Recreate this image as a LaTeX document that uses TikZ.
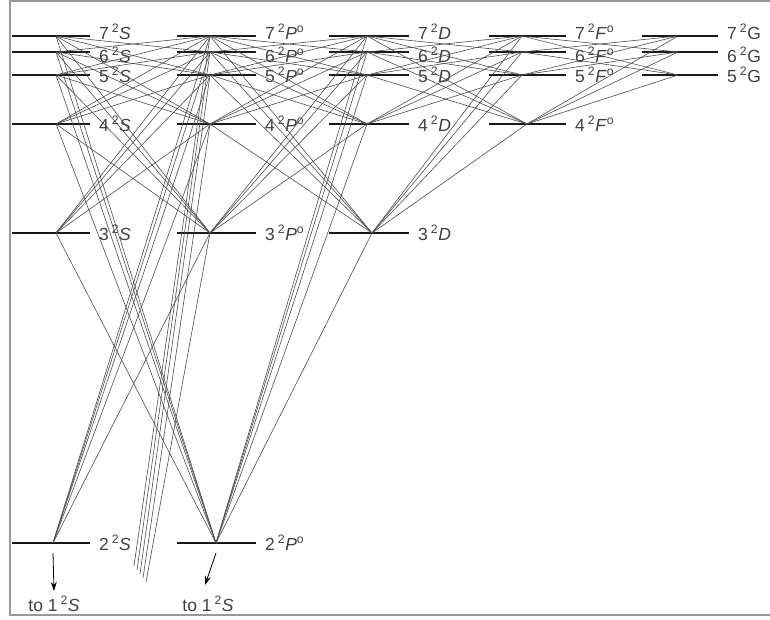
\documentclass[tikz,border=0pt]{standalone}
\usepackage{fontspec}
\setmainfont{Liberation Sans}
\usetikzlibrary{arrows.meta}

\newcommand{\term}[2]{#1\hspace{3pt}\textsuperscript{2}#2}

\begin{document}
\begin{tikzpicture}[x=1pt, y=-1pt, >={Stealth[length=9pt,width=6pt]},
  lvl/.style={line width=2.8pt, black!90},
  trans/.style={line width=0.6pt, black!70},
  lbl/.style={anchor=base west, inner sep=0pt, text=black!75,
    font=\fontsize{17.5}{20}\selectfont},
  plate/.style={line width=2pt, black!40}]
  \useasboundingbox (0,0) rectangle (770,619);
  % plate edges
  \coordinate (ctr) at (770,1);
  \coordinate (ctl) at (10,1);
  \coordinate (cbl) at (10,615);
  \coordinate (cbr) at (770,615);
  \draw[plate] (ctr) -- (ctl) -- (cbl) -- (cbr);

  % levels: column/lowest n/left/right/vertex/vertex of lowest/symbol
  \foreach \c/\nl/\xa/\xb/\xv/\xw/\sym in {
      S/2/12/90/56/53/\textit{S},
      P/2/177/256/210/216/\textit{P}\textsuperscript{o},
      D/3/329/409/367/372/\textit{D},
      F/4/489/566/522/527/\textit{F}\textsuperscript{o},
      G/5/642/718/678/678/G} {
    \foreach \n in {2,...,7} {
      \ifnum\n<\nl\relax\else
        \pgfmathsetmacro{\yy}{{0,0,543,233,124,75,52,36}[\n]}
        \pgfmathsetmacro{\dy}{{0,0,7,7,7,7,10,3}[\n]}
        \pgfmathsetmacro{\vx}{\n==\nl ? \xw : \xv}
        \draw[lvl] (\xa,\yy) -- (\xb,\yy);
        \coordinate (\c\n) at (\vx,\yy);
        \node[lbl] (t\c\n) at (\xb+9,\yy+\dy) {\term{\n}{\sym}};
      \fi
    }
  }

  % S - P
  \foreach \a in {2,...,7}
    \foreach \b in {2,...,7}
      {\ifnum\a=\b\else\draw[trans] (S\a) -- (P\b);\fi}
  % P - D
  \foreach \a in {2,...,7}
    \foreach \b in {3,...,7}
      {\ifnum\a=\b\else\draw[trans] (P\a) -- (D\b);\fi}
  % D - F
  \foreach \a in {3,...,7}
    \foreach \b in {4,...,7}
      {\ifnum\a=\b\else\draw[trans] (D\a) -- (F\b);\fi}
  % F - G
  \foreach \a in {4,...,7}
    \foreach \b in {5,...,7}
      {\ifnum\a=\b\else\draw[trans] (F\a) -- (G\b);\fi}

  % P lines running off towards 1S
  \foreach \n/\ex/\ey in {7/134/566, 6/137/570, 5/140/574, 4/143/578, 3/146/582} {
    \coordinate (g\n) at (\ex,\ey);
    \draw[trans] (P\n) -- (g\n);
  }

  % ground state arrows
  \node[lbl, anchor=base] (toS) at (54,611) {to \term{1}{\textit{S}}};
  \node[lbl, anchor=base] (toP) at (208,611) {to \term{1}{\textit{S}}};
  \draw[->, line width=0.8pt] ([yshift=-10pt]S2) -- ([yshift=5pt]toS.north);
  \draw[->, line width=0.8pt] ([yshift=-10pt]P2) -- ([xshift=-3pt,yshift=11pt]toP.north);
\end{tikzpicture}
\end{document}
